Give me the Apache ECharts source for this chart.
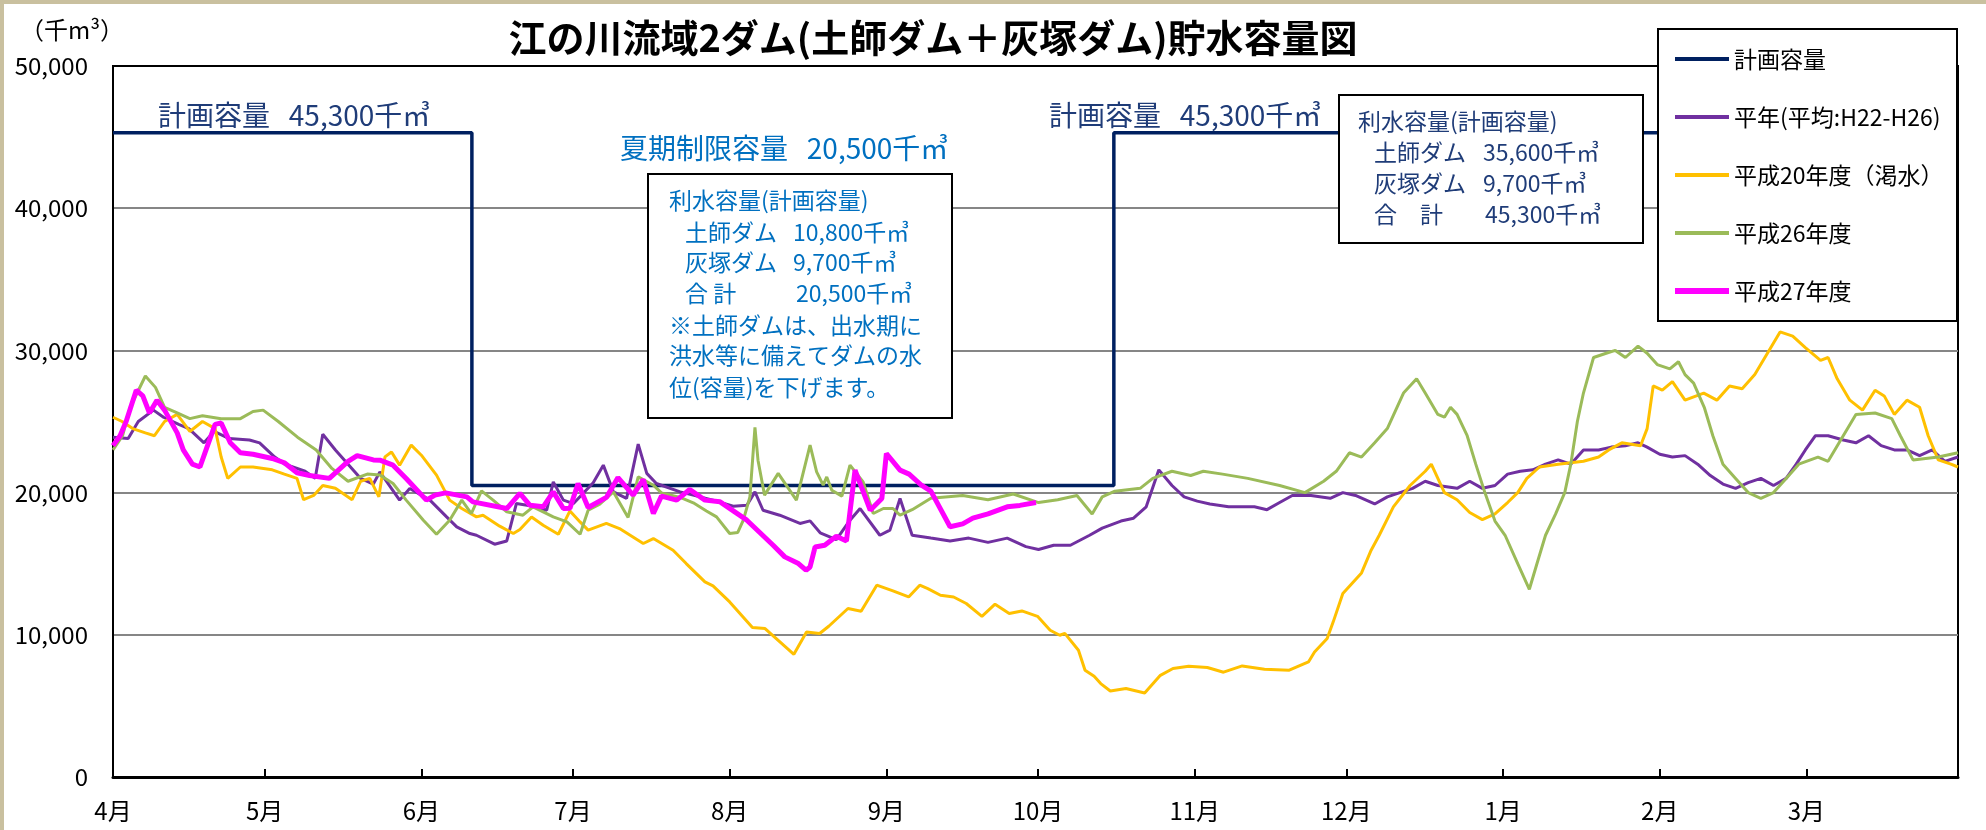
<!DOCTYPE html>
<html><head><meta charset="utf-8">
<script src="https://cdn.jsdelivr.net/npm/echarts@6/dist/echarts.min.js"></script>
<style>html,body{margin:0;padding:0;background:#fff}#c{width:1986px;height:830px}</style>
</head><body><div id="c"></div>
<script>
// ---- data ----
const monthStarts = [0,30,61,91,122,153,183,214,244,275,306,335];
const monthLabels = ['4月','5月','6月','7月','8月','9月','10月','11月','12月','1月','2月','3月'];
const yMax = 50000, yStep = 10000;
const seriesNames = ['計画容量','平年(平均:H22-H26)','平成20年度（渇水）','平成26年度','平成27年度'];

// [day from Apr 1, thousand m3]
const plan = [[0,45300],[71,45300],[71,20500],[198,20500],[198,45300],[365,45300]];

const heinen = [[0,23900],[3,23800],[5,25000],[8,25800],[10,25300],[13,24800],[15,24500],[18,23500],[20,24300],[23,23800],[27,23700],[29,23500],[32,22500],[34,22000],[38,21500],[40,21000],[41.5,24100],[44,23000],[46.5,22000],[49,21000],[51.5,20600],[52.8,21460],[56.7,19470],[58.7,20290],[62.7,19470],[66,18290],[68,17590],[70.6,17120],[71.9,17000],[75.5,16370],[77.9,16600],[79.8,19230],[83.1,19040],[85.8,18760],[87.1,20750],[89.1,19470],[91.1,19230],[95,20690],[97,21930],[99,20050],[101.6,19590],[103.9,23410],[105.6,21350],[107.5,20640],[112.2,20050],[118.7,19470],[122.7,19040],[125.4,19110],[127,20050],[128.6,18760],[131.9,18410],[135.9,17830],[137.9,18010],[139.9,17170],[143.1,16700],[145.8,18060],[147.8,18880],[151.7,17000],[153.7,17360],[155.7,19590],[158.1,17000],[161.8,16800],[165.6,16600],[169.3,16800],[173.1,16500],[176.9,16800],[180.6,16200],[183.1,16000],[186.1,16300],[189.4,16300],[193.2,17000],[195.7,17500],[199.4,18000],[201.9,18200],[204.4,19000],[206.9,21600],[209.5,20500],[211.9,19700],[214.5,19400],[217,19200],[220.7,19000],[225.8,19000],[228.3,18800],[230.8,19300],[233.3,19800],[237,19800],[240.8,19600],[243.3,20000],[245.8,19800],[249.6,19200],[252.1,19700],[254.6,20000],[257.1,20300],[259.6,20800],[262.1,20500],[265.9,20300],[268.4,20800],[270.9,20300],[273.4,20500],[275.9,21300],[278.4,21500],[280.9,21600],[283.4,22000],[285.9,22300],[288.4,22000],[290.9,23000],[293.9,23000],[296.4,23200],[299.2,23300],[301.7,23500],[303.5,23200],[306,22700],[308.5,22500],[311,22600],[313.5,22000],[316,21200],[318.5,20600],[321,20300],[323.5,20700],[326,21000],[328.5,20500],[331,21000],[333,22000],[334.8,23000],[336.8,24000],[339.3,24000],[342.3,23700],[344.8,23500],[347.3,24000],[349.8,23300],[352.4,23000],[354.9,23000],[357.4,22600],[359.9,23000],[362.4,22200],[365,22500]];

const h20 = [[0,25300],[1.8,25000],[3.9,24500],[6.4,24200],[8.2,24000],[10.2,25000],[12.7,25500],[15.2,24300],[17.7,25000],[20.2,24500],[21.4,22500],[22.7,21000],[25.2,21800],[27.7,21800],[31.5,21600],[33.9,21300],[36.4,21000],[37.7,19500],[39.7,19800],[41.5,20500],[44,20300],[47.3,19500],[49,20800],[50.8,21000],[52.6,19700],[53.8,22510],[55.1,22860],[56.7,21930],[59,23340],[61,22630],[64,21230],[66.6,19470],[69,18880],[71.9,18290],[73.2,18410],[76.5,17640],[79.2,17120],[80.5,17400],[82.8,18290],[85.1,17710],[88.1,17070],[90.4,18710],[92.4,17940],[94,17360],[97.6,17830],[100.2,17470],[104.9,16420],[106.9,16770],[110.8,15950],[113.4,15010],[117.1,13720],[118.7,13440],[122,12310],[126.5,10510],[129,10440],[134.7,8630],[137.2,10200],[139.8,10090],[141.6,10600],[145.4,11850],[148,11660],[151.1,13490],[154.3,13090],[157.4,12660],[159.6,13490],[161.2,13250],[163.7,12780],[166.3,12660],[168.8,12200],[171.9,11300],[174.5,12150],[177.3,11500],[179.8,11680],[182.9,11300],[185.4,10320],[187.3,9970],[188.3,10100],[191,8910],[192.3,7510],[194.1,7080],[195.4,6570],[197.3,6050],[200.4,6220],[204.1,5910],[207.2,7150],[209.7,7630],[212.8,7790],[216.5,7700],[219.7,7370],[223.4,7810],[227.8,7580],[232.7,7510],[236.5,8090],[237.7,8790],[240.2,9740],[241.4,10910],[243.3,12900],[247,14350],[248.9,15950],[250.5,17000],[253.3,19000],[256.6,20500],[259.6,21500],[260.8,22000],[263.4,20000],[265.9,19500],[268.4,18600],[270.9,18100],[273.4,18500],[275.9,19300],[277.9,20000],[279.7,21000],[282.2,21800],[285.9,22000],[290.9,22200],[293.9,22500],[295.9,23000],[298.5,23500],[302.2,23300],[303.5,24500],[304.7,27500],[306.5,27200],[308.5,27800],[311,26500],[314.7,27000],[317.3,26500],[319.8,27500],[322.3,27300],[324.8,28300],[326.8,29500],[329.8,31300],[332.3,31000],[334.8,30200],[337.8,29300],[339.3,29500],[341.1,28000],[343.6,26500],[346.1,25800],[348.6,27200],[350.4,26800],[352.4,25500],[354.9,26500],[357.4,26000],[359.1,24000],[361.1,22300],[363.6,22000],[365,21800]];

const h26 = [[0,23000],[1.9,24000],[3.4,26000],[6.4,28200],[8.4,27400],[10.2,26000],[12.7,25600],[15.2,25200],[17.7,25400],[21.4,25200],[25.2,25200],[27.7,25700],[29.7,25800],[32.7,25000],[36.5,23900],[40.2,23000],[43.3,21700],[46.5,20800],[50.3,21300],[52.8,21230],[55.4,20640],[58,19470],[61.4,18060],[64,17070],[66.6,18060],[69,19470],[70.9,18530],[72.9,20120],[75.2,19470],[77.9,18650],[81.1,18410],[83.1,19000],[87.1,18290],[89.8,17940],[92.4,17070],[94,18760],[96.3,19190],[99,20050],[101.9,18250],[103.9,21110],[106.9,20520],[108.5,19980],[112.2,19660],[114.8,19280],[117.4,18710],[119.4,18290],[122,17120],[123.6,17200],[124.7,18060],[126,19700],[127,24580],[127.6,22280],[128.9,19820],[131.6,21350],[135.2,19470],[137.9,23340],[139.2,21460],[140.5,20520],[141.2,21100],[142.2,20170],[144.2,19750],[145.8,21930],[148.4,20750],[150.4,18530],[152.4,18880],[154.3,18880],[155.7,18410],[158.1,18800],[161.8,19600],[168.1,19800],[173.1,19500],[178.1,19900],[183.1,19300],[186.9,19500],[190.7,19800],[193.7,18500],[195.7,19700],[198.2,20100],[203.2,20300],[205.7,21000],[209.5,21500],[213.2,21200],[215.7,21500],[219.5,21300],[224.5,21000],[230.8,20500],[235.8,20000],[239.5,20800],[242,21500],[244.6,22800],[247,22500],[249.6,23500],[252.1,24500],[255.3,27000],[257.9,28000],[259.6,27000],[262.1,25500],[263.4,25300],[264.6,26000],[265.9,25500],[267.9,24000],[269.6,22000],[271.4,20000],[273.4,18000],[275.4,17000],[277.9,15000],[280.2,13200],[281.7,15000],[283.4,17000],[285.4,18500],[287.2,20000],[288.4,22000],[289.7,25000],[290.9,27000],[292.9,29500],[295.4,29800],[297.2,30000],[299.2,29500],[301.7,30300],[303.5,29800],[305.5,29000],[308,28700],[309.7,29200],[311,28300],[312.7,27700],[314.8,26000],[316.5,24000],[318.5,22000],[321,21000],[323.5,20000],[326,19600],[328.5,20000],[331,21000],[333.5,22000],[337.3,22500],[339.3,22200],[342.3,24000],[344.8,25500],[348.6,25600],[351.9,25200],[353.6,24000],[356.1,22300],[361.1,22500],[365,22800]];

const h27 = [[0,23300],[1.4,24000],[2.6,25000],[4.6,27200],[5.9,26800],[7.2,25600],[8.7,26500],[10.2,25800],[12.7,24200],[13.9,23000],[15.7,22000],[17.2,21800],[18.4,23000],[20.2,24800],[21.4,24900],[23.2,23500],[25.2,22800],[27.7,22700],[31.5,22400],[33.9,22100],[36.4,21400],[38.9,21200],[42.8,21000],[46.5,22200],[48.3,22600],[51.5,22300],[52.8,22280],[55.4,21930],[58,20990],[62,19470],[63.7,19820],[65.8,19980],[70,19700],[71.2,19350],[77.9,18880],[80.5,19940],[82.5,19110],[85.1,19000],[87.1,20050],[89.1,18880],[90.4,18900],[92,20640],[94,18950],[97.6,19660],[99.9,21060],[102.9,19820],[104.9,20920],[106.9,18530],[108.5,19750],[111.5,19470],[114.1,20220],[117.1,19470],[120.1,19350],[125.4,18060],[130.6,16300],[132.9,15480],[135.6,15010],[137.1,14540],[137.9,14770],[138.9,16180],[140.8,16300],[143.1,16930],[145.1,16600],[146.8,21580],[149.8,18760],[152.1,19590],[153,22750],[155.7,21580],[157.5,21300],[160,20500],[161.8,20100],[165.6,17600],[168.1,17800],[170.1,18200],[173.1,18500],[176.9,19000],[179.4,19100],[182.6,19300]];

// ---- chart ----
const FONT = "'Noto Sans CJK JP','Noto Sans',sans-serif";
const NAVY = '#002060', BLUE = '#0070C0', TXTNAVY = '#1F3C78';
const colors = [NAVY, '#7030A0', '#FFC000', '#9BBB59', '#FF00FF'];
const widths = [3.5, 3, 3, 3, 5];
const seriesData = [plan, heinen, h20, h26, h27];
const iconThin = 'path://M0,0M0,5L54,5L54,9L0,9ZM54,14';
const iconThick = 'path://M0,0M0,4L54,4L54,10L0,10ZM54,14';

function fmt(v){ return String(v).replace(/\B(?=(\d{3})+(?!\d))/g, ','); }
function txt(x, y, s, size, color, weight, align){
  return {type:'text', x:x, y:y, z:6, style:{text:s, font: (weight||'normal')+' '+size+'px '+FONT, fill:color, textAlign:align||'left', textVerticalAlign:'middle'}};
}
function box(x, y, w, h){
  return {type:'rect', z:5, shape:{x:x,y:y,width:w,height:h}, style:{fill:'#fff', stroke:'#000', lineWidth:2}};
}

const chart = echarts.init(document.getElementById('c'), null, {renderer:'canvas'});
const option = {
  backgroundColor:'#fff',
  animation:false,
  textStyle:{fontFamily:FONT},
  grid:{left:113, right:28, top:66, bottom:53, show:true, borderColor:'#000', borderWidth:2, backgroundColor:'transparent'},
  xAxis:{type:'value', min:0, max:365,
    axisLine:{show:true, lineStyle:{color:'#000', width:3}},
    axisTick:{show:true, inside:true, length:8, customValues: monthStarts, lineStyle:{color:'#000', width:2}},
    axisLabel:{customValues: monthStarts, margin:22, fontSize:24, color:'#000', fontFamily:FONT,
      formatter: v => { const i = monthStarts.indexOf(Math.round(v)); return i >= 0 ? monthLabels[i] : ''; }},
    splitLine:{show:false}},
  yAxis:{type:'value', min:0, max:yMax, interval:yStep,
    axisLine:{show:true, lineStyle:{color:'#000', width:2}},
    axisTick:{show:false},
    axisLabel:{margin:25, fontSize:24, color:'#000', fontFamily:FONT, formatter: v => fmt(v)},
    splitLine:{show:true, showMinLine:false, showMaxLine:false, lineStyle:{color:'#868686', width:2}}},
  legend:{orient:'vertical', left:1675, top:44, z:10, itemWidth:54, itemHeight:14, itemGap:28, padding:0,
    textStyle:{fontSize:23, lineHeight:30, color:'#000', fontFamily:FONT},
    data: seriesNames.map((n,i)=>({name:n, icon: i===4 ? iconThick : iconThin}))},
  series: seriesNames.map((n,i)=>({
    name:n, type:'line', data: seriesData[i], symbol:'none', showSymbol:false, z: 2 + i*0.01,
    color: colors[i], lineStyle:{color:colors[i], width:widths[i]}, itemStyle:{color:colors[i]},
    emphasis:{disabled:true}, silent:true
  })),
  graphic:[
    {type:'rect', z:20, shape:{x:0,y:0,width:1986,height:4}, style:{fill:'#C9C09F'}},
    {type:'rect', z:20, shape:{x:0,y:0,width:4,height:830}, style:{fill:'#C9C09F'}},
    txt(933, 38, '江の川流域2ダム(土師ダム＋灰塚ダム)貯水容量図', 38, '#000', 'bold', 'center'),
    txt(20, 30, '（千m³）', 24, '#000'),
    txt(158, 115, '計画容量   45,300千㎥', 28, TXTNAVY),
    txt(1049, 115, '計画容量   45,300千㎥', 28, TXTNAVY),
    txt(620, 148, '夏期制限容量   20,500千㎥', 28, BLUE),
    box(648, 174, 304, 244),
    txt(669, 200, '利水容量(計画容量)', 23, BLUE),
    txt(685, 232, '土師ダム', 23, BLUE), txt(793, 232, '10,800千㎥', 23, BLUE),
    txt(685, 262, '灰塚ダム', 23, BLUE), txt(793, 262, '9,700千㎥', 23, BLUE),
    txt(685, 293, '合 計', 23, BLUE), txt(796, 293, '20,500千㎥', 23, BLUE),
    txt(669, 325, '※土師ダムは、出水期に', 23, BLUE),
    txt(669, 355, '洪水等に備えてダムの水', 23, BLUE),
    txt(669, 387, '位(容量)を下げます。', 23, BLUE),
    box(1339, 95, 304, 148),
    txt(1358, 121, '利水容量(計画容量)', 23, TXTNAVY),
    txt(1374, 152, '土師ダム', 23, TXTNAVY), txt(1483, 152, '35,600千㎥', 23, TXTNAVY),
    txt(1374, 183, '灰塚ダム', 23, TXTNAVY), txt(1483, 183, '9,700千㎥', 23, TXTNAVY),
    txt(1374, 214, '合　計', 23, TXTNAVY), txt(1485, 214, '45,300千㎥', 23, TXTNAVY),
    box(1658, 29, 299, 292)
  ]
};
chart.setOption(option);
</script></body></html>
